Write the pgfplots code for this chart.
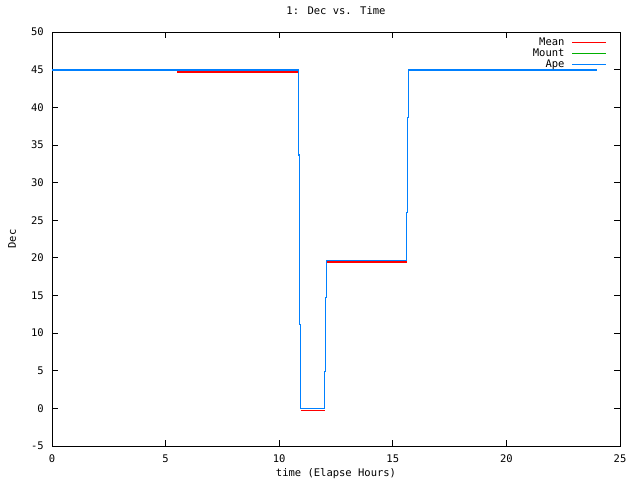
\documentclass[border=0pt]{standalone}
\usepackage{fontspec}
\setmainfont{DejaVu Sans Mono}
\usepackage{pgfplots}
\pgfplotsset{compat=1.18}
\definecolor{gpred}{RGB}{255,0,0}
\definecolor{gpgreen}{RGB}{0,176,0}
\definecolor{gpblue}{RGB}{0,128,255}
\newcommand\gfont{\fontsize{10.5bp}{11bp}\selectfont}
\begin{document}
\begin{tikzpicture}
\path[fill=white] (0,0) rectangle (640bp,480bp);
\useasboundingbox (0,0) rectangle (640bp,480bp);
\begin{axis}[
  at={(52bp,34bp)}, anchor=south west,
  scale only axis, width=568bp, height=414bp,
  xmin=0, xmax=25, ymin=-5, ymax=50,
  xtick={0,5,...,25}, ytick={-5,0,...,50},
  /pgf/number format/assume math mode=true,
  tick label style={font=\gfont},
  xticklabel style={anchor=base, yshift=-16bp, inner sep=0pt},
  yticklabel style={anchor=east, xshift=-8bp, inner sep=0pt},
  major tick length=6bp,
  tick style={black, line width=0.8bp},
  axis line style={black, line width=0.8bp},
  title={1: Dec vs. Time},
  title style={font=\gfont, at={(0.5,1)}, anchor=base, yshift=12bp, inner sep=0pt},
  xlabel={time (Elapse Hours)},
  xlabel style={font=\gfont, at={(0.5,0)}, anchor=base, yshift=-30bp, inner sep=0pt},
  ylabel={Dec},
  ylabel style={font=\gfont, at={(0,0.5)}, anchor=center, yshift=40bp, inner sep=0pt},
  unbounded coords=jump,
  legend plot pos=right,
  legend cell align=right,
  legend image code/.code={\draw[#1, line width=1.3bp] (0bp,0bp) -- (34bp,0bp);},
  legend style={draw=none, fill=none, font=\gfont, at={(1,1)}, anchor=north east,
    xshift=-13bp, yshift=-5bp, inner sep=0pt, column sep=7bp,
    nodes={inner sep=0pt, text height=8bp, text depth=3bp}},
]
\addplot[gpred, line width=1.4bp] coordinates {
 (5.5,44.68) (10.83,44.68) (10.83,nan)
 (10.94,-0.25) (12.0,-0.25) (12.0,nan)
 (12.07,19.45) (15.61,19.45)
};
\addlegendentry{Mean}
\addplot[gpgreen, line width=1bp] coordinates {
 (0,44.95) (10.83,44.95) (10.83,33.66) (10.88,33.66) (10.88,11.16)
 (10.94,11.16) (10.94,0) (12.0,0) (12.0,4.87) (12.05,4.87) (12.05,14.75)
 (12.07,14.75) (12.07,19.7) (15.61,19.7) (15.61,26.04) (15.65,26.04)
 (15.65,38.62) (15.70,38.62) (15.70,44.95) (24.0,44.95)
};
\addlegendentry{Mount}
\addplot[gpblue, line width=1.1bp] coordinates {
 (0,44.95) (10.83,44.95) (10.83,33.66) (10.88,33.66) (10.88,11.16)
 (10.94,11.16) (10.94,0) (12.0,0) (12.0,4.87) (12.05,4.87) (12.05,14.75)
 (12.07,14.75) (12.07,19.7) (15.61,19.7) (15.61,26.04) (15.65,26.04)
 (15.65,38.62) (15.70,38.62) (15.70,44.95) (24.0,44.95)
};
\addlegendentry{Ape}
\end{axis}
\end{tikzpicture}
\end{document}
